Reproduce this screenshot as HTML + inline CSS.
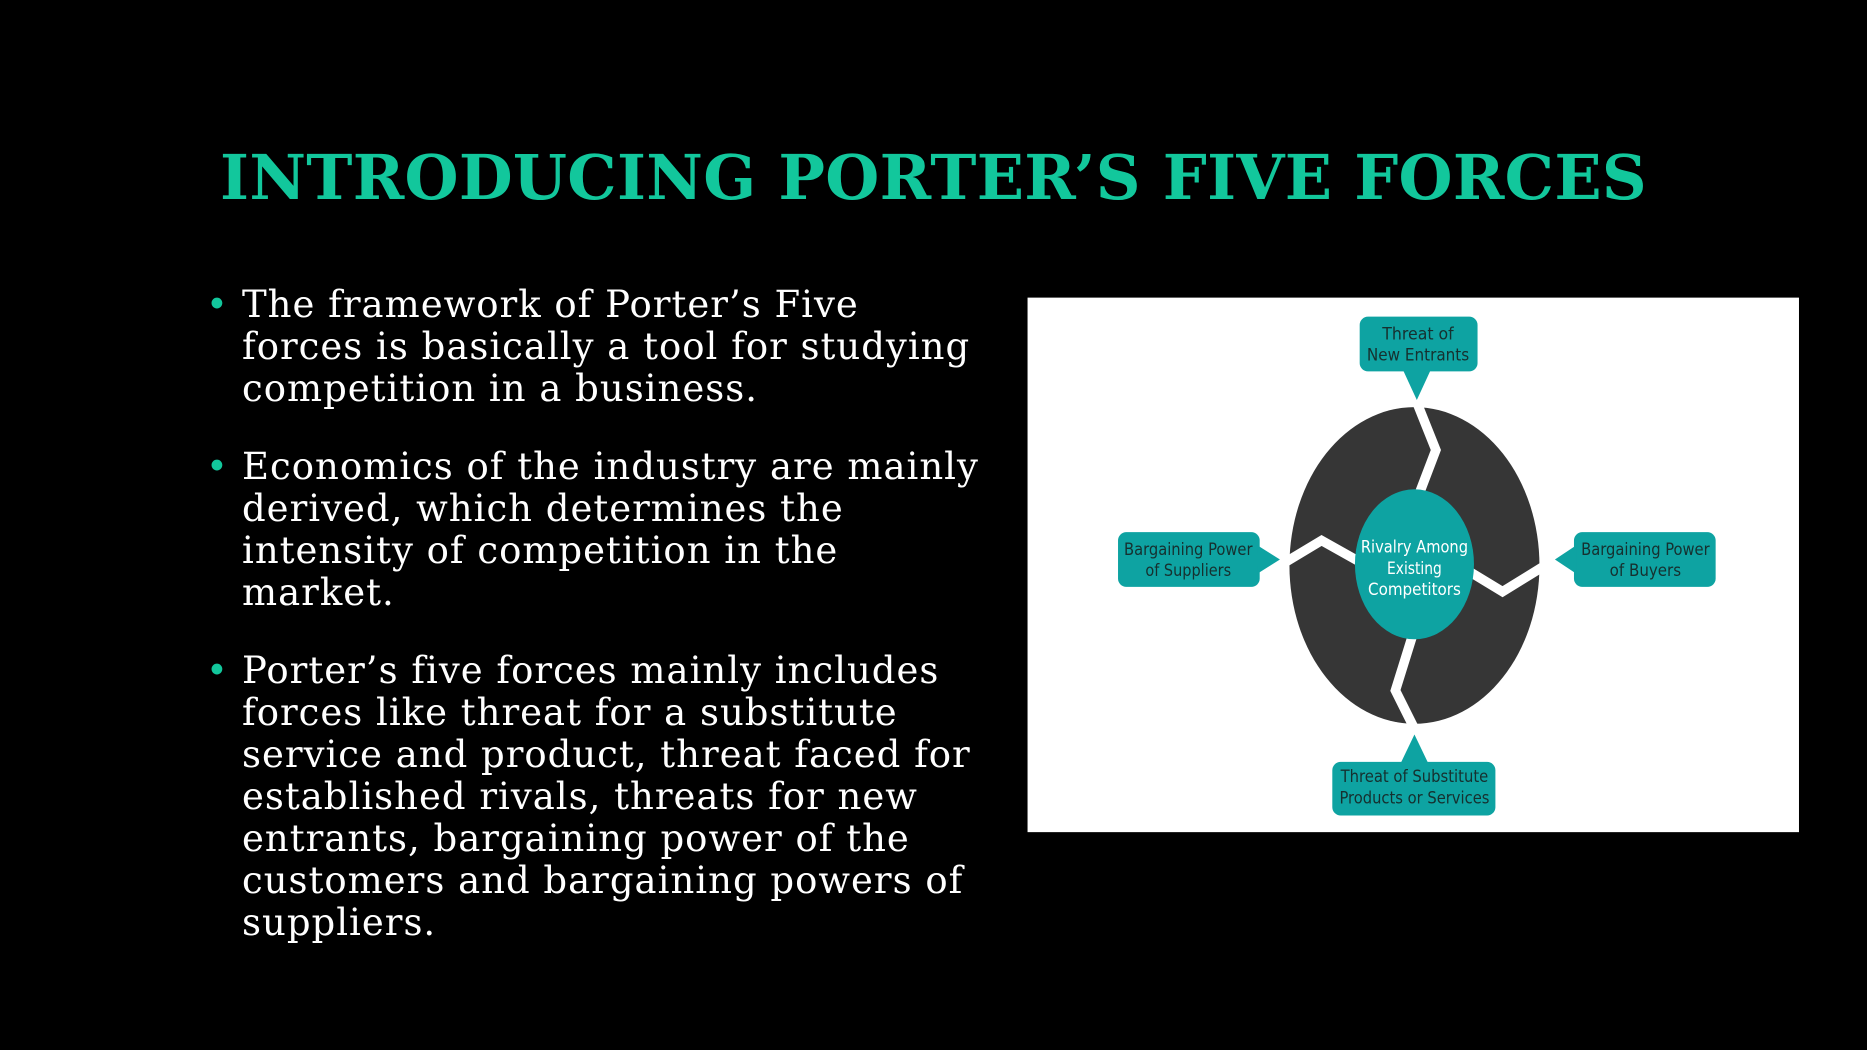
<!DOCTYPE html>
<html><head><meta charset="utf-8"><style>
html,body{margin:0;padding:0;background:#000;}
body{width:1867px;height:1050px;position:relative;overflow:hidden;font-family:"DejaVu Serif","Liberation Serif",serif;}
h1{position:absolute;left:0;width:1867px;top:141px;margin:0;text-align:center;color:#12c79c;font-size:62px;font-weight:bold;letter-spacing:0.3px;font-family:"DejaVu Serif","Liberation Serif",serif;}
ul{position:absolute;left:206px;top:284px;width:820px;margin:0;padding:0;list-style:none;color:#fff;font-size:37px;line-height:42px;letter-spacing:1px;}
li{position:relative;padding-left:36px;margin-bottom:36px;white-space:nowrap;}
li:before{content:"•";position:absolute;left:0;top:0;color:#12c79c;}
svg{position:absolute;left:0;top:0;}
</style></head><body>
<h1>INTRODUCING PORTER’S FIVE FORCES</h1>
<ul>
<li>The framework of Porter’s Five<br>forces is basically a tool for studying<br>competition in a business.</li>
<li>Economics of the industry are mainly<br>derived, which determines the<br>intensity of competition in the<br>market.</li>
<li>Porter’s five forces mainly includes<br>forces like threat for a substitute<br>service and product, threat faced for<br>established rivals, threats for new<br>entrants, bargaining power of the<br>customers and bargaining powers of<br>suppliers.</li>
</ul>
<svg width="1867" height="1050" viewBox="0 0 1568 882">
<rect x="863" y="250" width="648" height="449" fill="#fff"/>
<ellipse cx="1188" cy="475" rx="105" ry="133" fill="#363636"/>
<g stroke="#fff" stroke-width="8" fill="none">
<polyline points="1190,338 1206,378 1190,420"/>
<polyline points="1186,535 1172,580 1188,612"/>
<polyline points="1080,472 1110,454 1142,472"/>
<polyline points="1234,480 1262,497 1296,476"/>
</g>
<ellipse cx="1188" cy="474" rx="50" ry="63" fill="#0ea3a2"/>
<g fill="#0ea3a2">
<rect x="1142" y="266" width="99" height="46" rx="7"/>
<polygon points="1178,310 1202,310 1190,336"/>
<rect x="939" y="447" width="119" height="46" rx="7"/>
<polygon points="1056,458 1056,482 1075,470"/>
<rect x="1322" y="447" width="119" height="46" rx="7"/>
<polygon points="1324,458 1324,482 1306,470"/>
<rect x="1119" y="640" width="137" height="45" rx="7"/>
<polygon points="1176,642 1200,642 1188,617"/>
</g>
<g font-family="'DejaVu Sans Condensed','Liberation Sans Narrow','Liberation Sans',sans-serif" font-size="14" text-anchor="middle" fill="#16302f">
<text x="1191" y="285" textLength="60" lengthAdjust="spacingAndGlyphs">Threat of</text>
<text x="1191" y="303" textLength="86" lengthAdjust="spacingAndGlyphs">New Entrants</text>
<text x="998" y="466" textLength="108" lengthAdjust="spacingAndGlyphs">Bargaining Power</text>
<text x="998" y="484" textLength="72" lengthAdjust="spacingAndGlyphs">of Suppliers</text>
<text x="1382" y="466" textLength="108" lengthAdjust="spacingAndGlyphs">Bargaining Power</text>
<text x="1382" y="484" textLength="60" lengthAdjust="spacingAndGlyphs">of Buyers</text>
<text x="1188" y="657" textLength="124" lengthAdjust="spacingAndGlyphs">Threat of Substitute</text>
<text x="1188" y="675" textLength="126" lengthAdjust="spacingAndGlyphs">Products or Services</text>
</g>
<g font-family="'DejaVu Sans Condensed','Liberation Sans Narrow','Liberation Sans',sans-serif" font-size="14" text-anchor="middle" fill="#fff">
<text x="1188" y="464" textLength="90" lengthAdjust="spacingAndGlyphs">Rivalry Among</text>
<text x="1188" y="482" textLength="46" lengthAdjust="spacingAndGlyphs">Existing</text>
<text x="1188" y="500" textLength="78" lengthAdjust="spacingAndGlyphs">Competitors</text>
</g>
</svg>
</body></html>
